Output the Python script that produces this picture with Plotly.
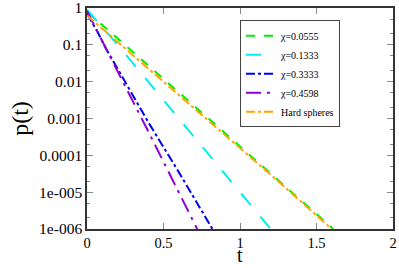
import plotly.graph_objects as go

names = ["χ=0.0555", "χ=0.1333", "χ=0.3333", "χ=0.4598", "Hard spheres"]
colors = ["#00ee00", "#00eeee", "#0000ee", "#9400d3", "#ffa500"]
dashes = ["dash", "longdash", "dashdot", "longdashdot", "dashdot"]

t_green = [0.0, 0.2, 0.4, 0.8, 1.2, 1.61]
p_green = [0.8, 0.15, 0.027, 9.5e-4, 3.2e-5, 1e-6]
t_cyan = [0.0, 0.2, 0.4, 0.8, 1.2]
p_cyan = [0.9, 0.1, 0.01, 1e-4, 1e-6]
t_blue = [0.0, 0.07, 0.12, 0.4, 0.6, 0.82]
p_blue = [0.7, 0.22, 0.085, 8e-4, 3.5e-5, 1e-6]
t_purple = [0.0, 0.045, 0.2, 0.4, 0.6, 0.72]
p_purple = [0.83, 0.35, 0.019, 4.5e-4, 9.8e-6, 1e-6]
t_orange = [0.0, 0.2, 0.4, 0.8, 1.2, 1.6]
p_orange = [0.63, 0.12, 0.023, 8.3e-4, 3e-5, 1e-6]

series_t = [t_green, t_cyan, t_blue, t_purple, t_orange]
series_p = [p_green, p_cyan, p_blue, p_purple, p_orange]

x_ticks = [0, 0.5, 1, 1.5, 2]
x_ticktext = ["0", "0.5", "1", "1.5", "2"]
y_ticks = [1, 0.1, 0.01, 0.001, 0.0001, 1e-5, 1e-6]
y_ticktext = ["1", "0.1", "0.01", "0.001", "0.0001", "1e-005", "1e-006"]

fig = go.Figure()
for n, c, d, tt, pp in zip(names, colors, dashes, series_t, series_p):
    fig.add_trace(go.Scatter(x=tt, y=pp, mode="lines", name=n,
                             line=dict(color=c, dash=d, width=2)))

font = "Liberation Serif, Times New Roman, serif"
fig.update_layout(
    width=399, height=268,
    margin=dict(l=87, r=6, t=8, b=39),
    paper_bgcolor="white", plot_bgcolor="white",
    font=dict(family=font, color="black", size=15.5),
    legend=dict(x=0.5, y=0.945, xanchor="left", yanchor="top",
                bordercolor="#444", borderwidth=1, bgcolor="white",
                font=dict(family=font, size=10), tracegroupgap=0,
                itemwidth=30),
    xaxis=dict(range=[0, 2], tickvals=x_ticks, ticktext=x_ticktext,
               ticks="inside", ticklen=6, tickcolor="#888", showgrid=False,
               zeroline=False, showline=True, linecolor="#333", linewidth=1.5, mirror="ticks",
               automargin=False, ticklabeloverflow="allow",
               tickfont=dict(size=14.5)),
    yaxis=dict(type="log", range=[-6, 0], tickvals=y_ticks, ticktext=y_ticktext,
               ticks="inside", ticklen=6, tickcolor="#888", showgrid=False,
               zeroline=False, showline=True, linecolor="#333", linewidth=1.5, mirror="ticks",
               automargin=False, ticklabeloverflow="allow",
               minor=dict(ticks="inside", ticklen=3, tickcolor="#888", showgrid=False),
               title=dict(text="p(t)", font=dict(size=24), standoff=4)),
    annotations=[dict(text="t", xref="paper", yref="paper", x=0.5, y=-39 / 221,
                      xanchor="center", yanchor="bottom", showarrow=False,
                      font=dict(family=font, size=20))],
)
fig.write_html("out.html", config={"displayModeBar": False},
               post_script="document.body.style.margin='0px';document.body.style.overflow='hidden';")
